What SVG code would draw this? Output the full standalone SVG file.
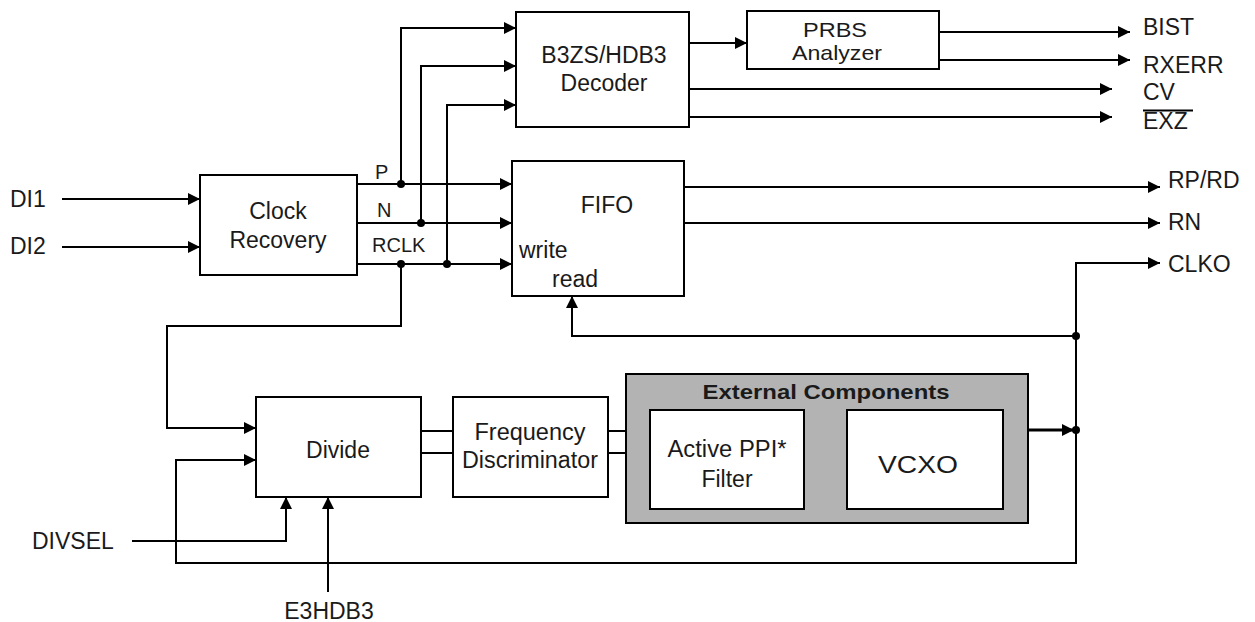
<svg xmlns="http://www.w3.org/2000/svg" width="1255" height="622" viewBox="0 0 1255 622">
<style>
  .box { fill: #fff; stroke: #000; stroke-width: 2; }
  .ext { fill: #b3b3b3; stroke: #000; stroke-width: 2; }
  .t { font-family: "Liberation Sans", Arial, sans-serif; font-size: 23px; fill: #1a1a1a; }
  .c { text-anchor: middle; }
  .s { font-size: 20px; }
  .p { font-size: 21px; }
  .b { font-weight: bold; font-size: 21px; }
  .w { fill: none; stroke: #000; stroke-width: 2; }
  .a { marker-end: url(#arr); }
  .thick { stroke-width: 3; }
  .dot { fill: #000; }
</style>
<defs>
  <marker id="arr" markerUnits="userSpaceOnUse" markerWidth="13" markerHeight="12" refX="12" refY="6" orient="auto">
    <path d="M0,0 L12,6 L0,12 z" fill="#000"/>
  </marker>
</defs>

<g id="connectors">
  <!-- inputs -->
  <path class="w a" d="M62,199 H200"/>
  <path class="w a" d="M62,247 H200"/>
  <!-- P, N, RCLK to FIFO -->
  <path class="w a" d="M357,184 H512"/>
  <path class="w a" d="M357,223 H512"/>
  <path class="w a" d="M357,264 H512"/>
  <!-- taps to decoder -->
  <path class="w a" d="M401,184 V28 H516"/>
  <path class="w a" d="M421,223 V66 H516"/>
  <path class="w a" d="M447,264 V105 H516"/>
  <!-- RCLK to Divide -->
  <path class="w a" d="M401,264 V326 H167 V428 H256"/>
  <!-- decoder outputs -->
  <path class="w a" d="M689,43 H747"/>
  <path class="w a" d="M939,32 H1130"/>
  <path class="w a" d="M939,60 H1130"/>
  <path class="w a" d="M689,89 H1112"/>
  <path class="w a" d="M689,117 H1112"/>
  <!-- FIFO outputs -->
  <path class="w a" d="M684,187 H1160"/>
  <path class="w a" d="M684,223 H1160"/>
  <!-- CLKO -->
  <path class="w a" d="M1076,430 V263 H1160"/>
  <!-- read clock -->
  <path class="w a" d="M1076,336 H572 V296"/>
  <!-- VCXO output -->
  <path class="w a thick" d="M1003,430 H1074"/>
  <!-- feedback to Divide -->
  <path class="w a" d="M1076,430 V563 H176 V460 H256"/>
  <!-- DIVSEL, E3HDB3 -->
  <path class="w a" d="M132,541 H286 V497"/>
  <path class="w a" d="M328,592 V497"/>
  <!-- Divide to Frequency Discriminator -->
  <path class="w" d="M421,431 H453 M421,453 H453"/>
  <!-- Frequency Discriminator to Active PPI Filter -->
  <path class="w" d="M608,431 H650 M608,453 H650"/>
  <!-- Filter to VCXO -->
  <path class="w" d="M804,433 H847"/>
  <!-- junction dots -->
  <circle class="dot" cx="401" cy="184" r="4"/>
  <circle class="dot" cx="421" cy="223" r="4"/>
  <circle class="dot" cx="401" cy="264" r="4"/>
  <circle class="dot" cx="447" cy="264" r="4"/>
  <circle class="dot" cx="1076" cy="336" r="4"/>
  <circle class="dot" cx="1076" cy="430" r="4"/>
</g>

<g id="clock-recovery">
  <rect class="box" x="200" y="175" width="157" height="100"/>
  <text class="t c" x="278" y="219">Clock</text>
  <text class="t c" x="278" y="248">Recovery</text>
</g>

<g id="decoder">
  <rect class="box" x="516" y="12" width="173" height="115"/>
  <text class="t c" x="604" y="63">B3ZS/HDB3</text>
  <text class="t c" x="604" y="91">Decoder</text>
</g>

<g id="prbs">
  <rect class="box" x="747" y="11" width="192" height="58"/>
  <text class="t c p" x="835" y="37" textLength="64" lengthAdjust="spacingAndGlyphs">PRBS</text>
  <text class="t c p" x="837" y="60" textLength="90" lengthAdjust="spacingAndGlyphs">Analyzer</text>
</g>

<g id="fifo">
  <rect class="box" x="512" y="161" width="172" height="135"/>
  <text class="t c" x="607" y="213">FIFO</text>
  <text class="t" x="519" y="258">write</text>
  <text class="t" x="552" y="287">read</text>
</g>

<g id="divide">
  <rect class="box" x="256" y="397" width="165" height="100"/>
  <text class="t c" x="338" y="458">Divide</text>
</g>

<g id="freq-disc">
  <rect class="box" x="453" y="397" width="155" height="100"/>
  <text class="t c" x="530" y="440" textLength="111" lengthAdjust="spacingAndGlyphs">Frequency</text>
  <text class="t c" x="530" y="468" textLength="136" lengthAdjust="spacingAndGlyphs">Discriminator</text>
</g>

<g id="external-components">
  <rect class="ext" x="626" y="374" width="402" height="149"/>
  <text class="t c b" x="826" y="399" textLength="247" lengthAdjust="spacingAndGlyphs">External Components</text>
</g>

<g id="active-filter">
  <rect class="box" x="650" y="410" width="154" height="99"/>
  <text class="t c" x="727" y="457" textLength="119" lengthAdjust="spacingAndGlyphs">Active PPI*</text>
  <text class="t c" x="727" y="487">Filter</text>
</g>

<g id="vcxo">
  <rect class="box" x="847" y="410" width="156" height="99"/>
  <text class="t c" x="918" y="473" textLength="80" lengthAdjust="spacingAndGlyphs">VCXO</text>
</g>

<g id="labels">
  <text class="t" x="10" y="207">DI1</text>
  <text class="t" x="10" y="254">DI2</text>
  <text class="t s" x="375" y="179">P</text>
  <text class="t s" x="377" y="217">N</text>
  <text class="t s" x="372" y="252">RCLK</text>
  <text class="t" x="1143" y="35">BIST</text>
  <text class="t" x="1143" y="73">RXERR</text>
  <text class="t" x="1143" y="100">CV</text>
  <text class="t" x="1143" y="129">EXZ</text>
  <path class="w" d="M1143,110.5 H1193"/>
  <text class="t" x="1168" y="188">RP/RD</text>
  <text class="t" x="1168" y="230">RN</text>
  <text class="t" x="1168" y="272">CLKO</text>
  <text class="t" x="32" y="549">DIVSEL</text>
  <text class="t c" x="329" y="619">E3HDB3</text>
</g>
</svg>
